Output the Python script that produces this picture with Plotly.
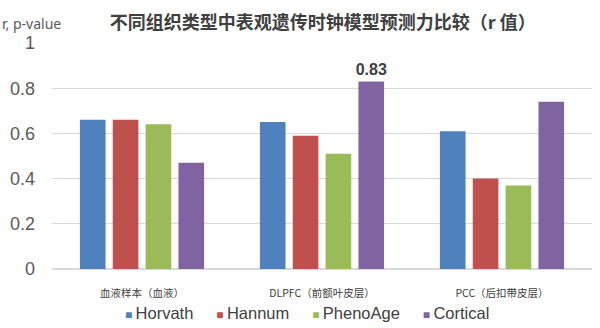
import plotly.graph_objects as go

# Tissue groups and clock models
categories = ["血液样本（血液）", "DLPFC（前额叶皮层）", "PCC（后扣带皮层）"]
models = ["Horvath", "Hannum", "PhenoAge", "Cortical"]
horvath = [0.66, 0.65, 0.61]
hannum = [0.66, 0.59, 0.40]
phenoage = [0.64, 0.51, 0.37]
cortical = [0.47, 0.83, 0.74]
cortical_labels = ["", "0.83", ""]
y_ticks = [0, 0.2, 0.4, 0.6, 0.8, 1]
y_tick_text = ["0", "0.2", "0.4", "0.6", "0.8", "1"]

colors = ["#4F81BD", "#C0504D", "#9BBB59", "#8064A2"]
series = [horvath, hannum, phenoage, cortical]

CJK = "Noto Sans CJK SC"
LATIN = "Liberation Sans, Arial, sans-serif"

fig = go.Figure()
for name, vals, col in zip(models, series, colors):
    kw = {}
    if name == "Cortical":
        kw = dict(
            text=cortical_labels,
            textposition="outside",
            constraintext="none",
            textfont=dict(family=LATIN, size=16, color="#404040", weight="bold"),
            cliponaxis=False,
        )
    fig.add_trace(go.Bar(name=name, x=categories, y=vals, marker_color=col,
                         marker_line_width=0, showlegend=False, **kw))

# Compact legend row below the axis: small colored square followed by series name
legend_text = "     ".join(
    f'<span style="color:{c};font-size:12px">■ </span>{n}' for n, c in zip(models, colors)
)
annotations = [
    dict(text="r, p-value", xref="paper", yref="paper",
         x=-0.096, y=1.085, xanchor="left", yanchor="middle", showarrow=False,
         font=dict(family="Noto Sans", size=14, color="#595959")),
    dict(text=legend_text, xref="paper", yref="paper",
         x=0.472, y=-0.195, xanchor="center", yanchor="middle", showarrow=False,
         font=dict(family=LATIN, size=16.5, color="#404040")),
]

fig.update_layout(
    width=600, height=328,
    margin=dict(l=52, r=8, t=43, b=59, autoexpand=False),
    paper_bgcolor="white", plot_bgcolor="white",
    barmode="group", bargap=0.27, bargroupgap=0.22,
    title=dict(text="<b>不同组织类型中表观遗传时钟模型预测力比较（r 值）</b>",
               x=0.538, xanchor="center", y=0.93, yanchor="middle",
               font=dict(family=CJK, size=18, color="#404040")),
    xaxis=dict(showgrid=False, showline=False, ticks="", automargin=False,
               tickfont=dict(family=CJK, size=10.5, color="#404040"),
               ticklabelstandoff=16),
    yaxis=dict(range=[0, 1], tickvals=y_ticks, ticktext=y_tick_text,
               showgrid=True, gridcolor="#D9D9D9", gridwidth=1,
               zeroline=True, zerolinecolor="#D9D9D9", showline=False,
               automargin=False,
               tickfont=dict(family=LATIN, size=18, color="#595959"),
               ticklabelstandoff=16),
    annotations=annotations,
)

fig.write_html("out.html")
